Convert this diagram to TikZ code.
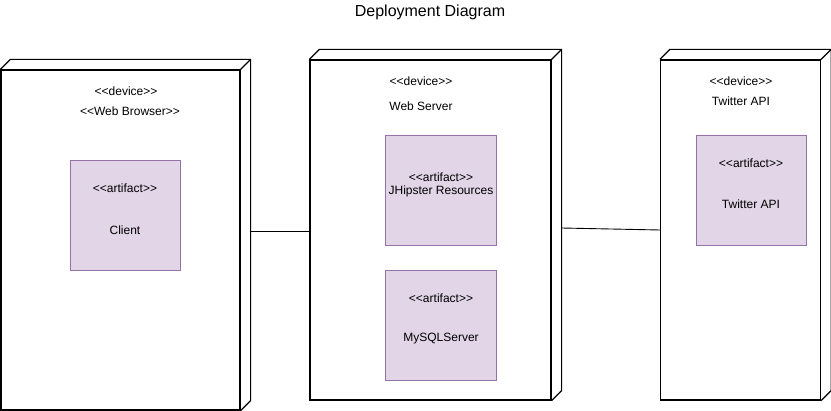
\documentclass[tikz,border=0pt]{standalone}
\usepackage{fontspec}
\setmainfont{Liberation Sans}[Ligatures=TeXOff]
\usepackage{tikz}
\usetikzlibrary{positioning,calc}

\definecolor{artfill}{HTML}{E1D5E7}
\definecolor{artdraw}{HTML}{9673A6}

\tikzset{
	device/.style={draw, line width=1.2pt, inner sep=0pt, minimum height=340pt},
	artifact/.style={draw=artdraw, fill=artfill, line width=0.9pt, inner sep=0pt, minimum width=110pt, minimum height=110pt},
	txt/.style={font=\fontsize{12}{14}\selectfont, inner sep=0pt},
}

% depth of the box faces
\newcommand{\boxdepth}[1]{
\draw[line width=1.2pt] (#1.north west) -- ++(10,-10) -| ($(#1.south east)+(10,-10)$) -- (#1.south east);
\draw[line width=1.2pt] (#1.north east) -- ++(10,-10);
}

\begin{document}
\begin{tikzpicture}[x=1pt,y=-1pt]
\useasboundingbox (0,0) rectangle (831,411);
\node[txt, font=\fontsize{16}{18}\selectfont] (title) at (430,12) {Deployment Diagram};

% devices
\node[device, minimum width=239pt] (browser) at (120.5,240) {};
\node[device, minimum width=241pt] (server) at (430.5,230) {};
\node[device, minimum width=160pt] (twitter) at (740.5,230) {};
\boxdepth{browser}
\boxdepth{server}
\boxdepth{twitter}

\node[txt] (browserdev) at (126,91) {<<device>>};
\node[txt] (browsername) at (130,111) {<<Web Browser>>};
\node[txt] (serverdev) at (421,81) {<<device>>};
\node[txt] (servername) at (421,106) {Web Server};
\node[txt] (twitterdev) at (741,81) {<<device>>};
\node[txt] (twittername) at (741,101) {Twitter API};

% artifacts
\node[artifact] (client) at (125,215) {};
\node[artifact, minimum width=111pt] (jhipster) at (440.5,190) {};
\node[artifact, minimum width=111pt] (mysql) at (440.5,325) {};
\node[artifact] (twitterart) at (751,190) {};

\node[txt] (clientst) at (125,188) {<<artifact>>};
\node[txt] (clientname) at (125,230) {Client};
\node[txt] (jhipsterst) at (441,177) {<<artifact>>};
\node[txt] (jhipstername) at (441,191) {JHipster Resources};
\node[txt] (mysqlst) at (441,298) {<<artifact>>};
\node[txt] (mysqlname) at (441,339) {MySQLServer};
\node[txt] (twitterst) at (751,163) {<<artifact>>};
\node[txt] (twittername2) at (751,204) {Twitter API};

% links
\draw[line width=0.9pt] ($(browser.east)+(10,-9)$) -- ($(server.west)+(0,1)$);
\draw[line width=0.9pt] ($(server.east)+(10,-2)$) -- (twitter.west);
\end{tikzpicture}
\end{document}
